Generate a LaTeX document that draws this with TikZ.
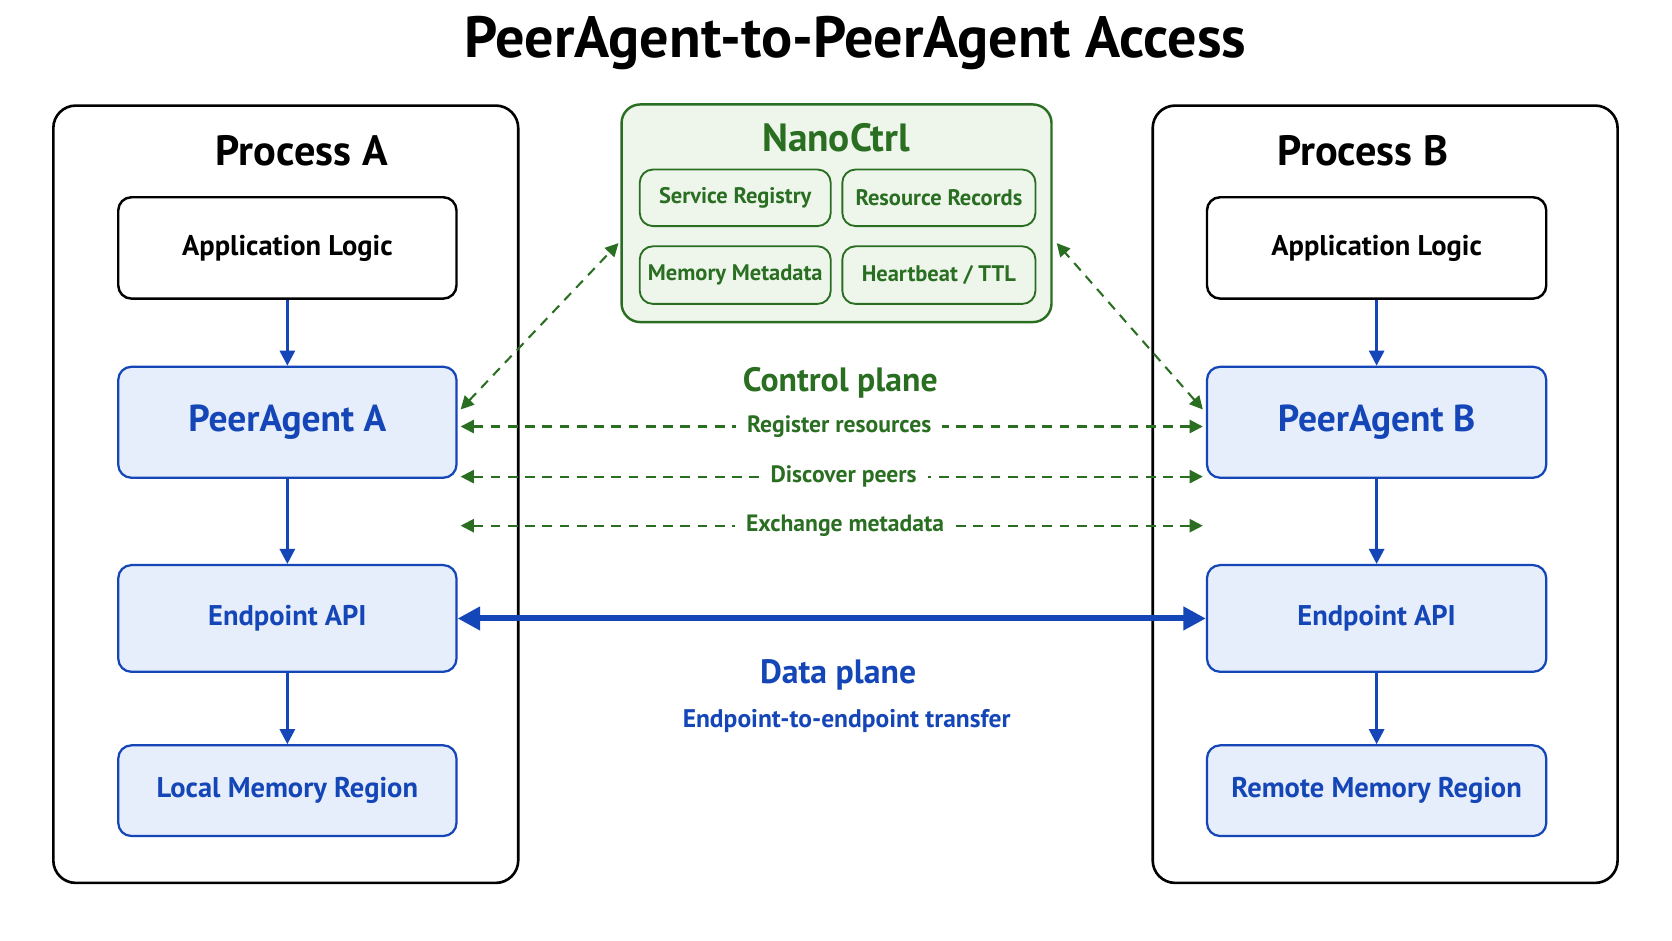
\documentclass[tikz,border=0pt]{standalone}
\usepackage{fontspec}
\setmainfont{PT Sans}
\usetikzlibrary{arrows.meta}
\definecolor{bl}{HTML}{1546B8}
\definecolor{blf}{HTML}{E6EEFB}
\definecolor{gr}{HTML}{2A6E22}
\definecolor{grf}{HTML}{EEF6EC}
\tikzset{
 proc/.style={draw=black,line width=0.7pt,rounded corners=6pt},
 wbox/.style={draw=black,line width=0.65pt,rounded corners=3.5pt,fill=white,font=\bfseries\fontsize{7.6}{9}\selectfont},
 bbox/.style={draw=bl,line width=0.6pt,rounded corners=3.5pt,fill=blf,text=bl,font=\bfseries\fontsize{7.6}{9}\selectfont},
 gbox/.style={draw=gr,line width=0.5pt,rounded corners=3.5pt,fill=grf,text=gr,font=\bfseries\fontsize{6}{7}\selectfont,inner sep=1pt},
 varr/.style={draw=bl,line width=0.75pt,-{Triangle[length=4pt,width=4pt]}},
 carr/.style={draw=gr,line width=0.55pt,dash pattern=on 2.6pt off 2pt,{Triangle[length=3.5pt,width=3.5pt]}-{Triangle[length=3.5pt,width=3.5pt]}},
 clab/.style={fill=white,text=gr,font=\bfseries\fontsize{6.3}{8}\selectfont,inner xsep=3pt},
}
\begin{document}
\begin{tikzpicture}[x=0.01cm,y=-0.01cm]
\useasboundingbox[fill=white] (0,0) rectangle (1568,882);
\node[font=\bfseries\fontsize{15.5}{18}\selectfont] (title) at (802,40) {PeerAgent-to-PeerAgent Access};
% Process A
\draw[proc] (50,99) rectangle (486,828);
\node[font=\bfseries\fontsize{11.3}{13}\selectfont] (pa) at (283,141) {Process A};
\node[wbox,minimum width=3.17cm,minimum height=0.95cm] (appA) at (269.5,232.5) {Application Logic};
\node[bbox,minimum width=3.17cm,minimum height=1.04cm,font=\bfseries\fontsize{10}{12}\selectfont] (peerA) at (269.5,396) {PeerAgent A};
\node[bbox,minimum width=3.17cm,minimum height=1.0cm] (epA) at (269.5,580) {Endpoint API};
\node[bbox,minimum width=3.17cm,minimum height=0.85cm] (memA) at (269.5,741.5) {Local Memory Region};
\draw[varr] (appA) -- (peerA);
\draw[varr] (peerA) -- (epA);
\draw[varr] (epA) -- (memA);
% Process B
\draw[proc] (1081,99) rectangle (1517,828);
\node[font=\bfseries\fontsize{11.3}{13}\selectfont] (pb) at (1278,141) {Process B};
\node[wbox,minimum width=3.18cm,minimum height=0.95cm] (appB) at (1291,232.5) {Application Logic};
\node[bbox,minimum width=3.18cm,minimum height=1.04cm,font=\bfseries\fontsize{10}{12}\selectfont] (peerB) at (1291,396) {PeerAgent B};
\node[bbox,minimum width=3.18cm,minimum height=1.0cm] (epB) at (1291,580) {Endpoint API};
\node[bbox,minimum width=3.18cm,minimum height=0.85cm] (memB) at (1291,741.5) {Remote Memory Region};
\draw[varr] (appB) -- (peerB);
\draw[varr] (peerB) -- (epB);
\draw[varr] (epB) -- (memB);
% NanoCtrl
\node[draw=gr,line width=0.65pt,rounded corners=5pt,fill=grf,minimum width=4.03cm,minimum height=2.04cm] (nc) at (784.5,200) {};
\node[text=gr,font=\bfseries\fontsize{10.5}{12}\selectfont] (nct) at (784,129) {NanoCtrl};
\node[gbox,minimum width=1.79cm,minimum height=0.53cm] (sr) at (689.5,185.5) {Service Registry};
\node[gbox,minimum width=1.81cm,minimum height=0.53cm] (rr) at (880.5,185.5) {Resource Records};
\node[gbox,minimum width=1.79cm,minimum height=0.54cm] (mm) at (689.5,258) {Memory Metadata};
\node[gbox,minimum width=1.81cm,minimum height=0.54cm] (hb) at (880.5,258) {Heartbeat / TTL};
% control plane
\coordinate (dA) at (432,384); \coordinate (dnA) at (580,228);
\coordinate (dB) at (1128,384); \coordinate (dnB) at (991,228);
\draw[carr] (dA) -- (dnA);
\draw[carr] (dB) -- (dnB);
\node[text=gr,font=\bfseries\fontsize{9}{11}\selectfont] (cp) at (788,359) {Control plane};
\coordinate (r1) at (432,400); \coordinate (r2) at (1128,400);
\coordinate (d1) at (432,447); \coordinate (d2) at (1128,447);
\coordinate (e1) at (432,493); \coordinate (e2) at (1128,493);
\draw[carr] (r1) -- node[clab,pos=0.51] (rl) {Register resources} (r2);
\draw[carr] (d1) -- node[clab,pos=0.516] (dl) {Discover peers} (d2);
\draw[carr] (e1) -- node[clab,pos=0.518] (el) {Exchange metadata} (e2);
% data plane
\draw[draw=bl,line width=1.6pt,{Triangle[length=6pt,width=6pt]}-{Triangle[length=6pt,width=6pt]}] (epA) -- (epB);
\node[text=bl,font=\bfseries\fontsize{9}{11}\selectfont] (dp) at (786,633) {Data plane};
\node[text=bl,font=\bfseries\fontsize{6.8}{8}\selectfont] (dps) at (794,676) {Endpoint-to-endpoint transfer};
\end{tikzpicture}
\end{document}
